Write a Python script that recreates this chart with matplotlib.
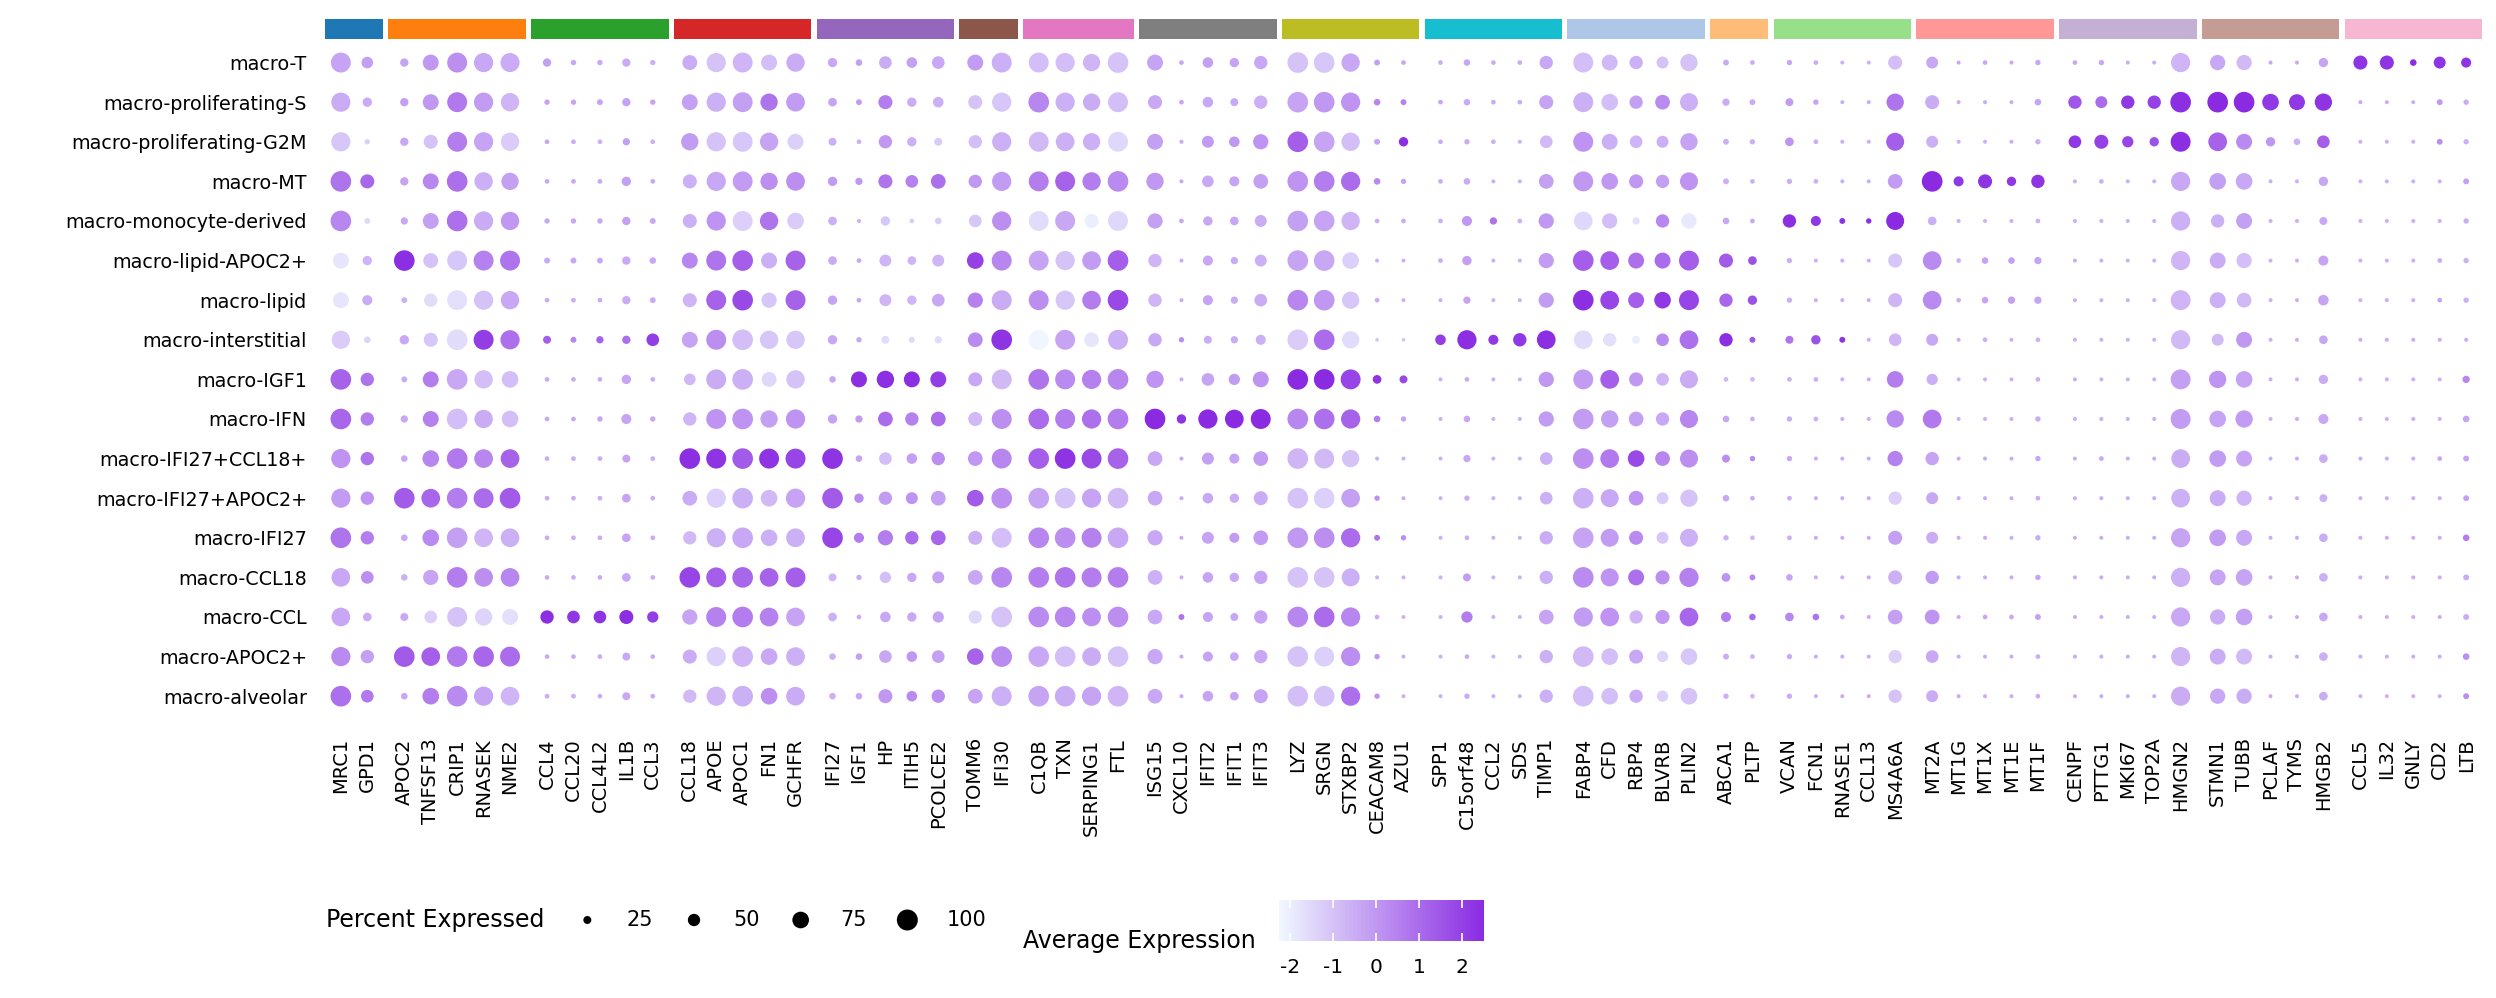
import numpy as np
import matplotlib
matplotlib.use("Agg")
import matplotlib.pyplot as plt
from matplotlib.colors import LinearSegmentedColormap, Normalize
from matplotlib.patches import Rectangle
import matplotlib.cm as cm

plt.rcParams['axes.unicode_minus'] = False

# Setup

clusters = ['macro-T', 'macro-proliferating-S', 'macro-proliferating-G2M', 'macro-MT',
            'macro-monocyte-derived', 'macro-lipid-APOC2+', 'macro-lipid', 'macro-interstitial',
            'macro-IGF1', 'macro-IFN', 'macro-IFI27+CCL18+', 'macro-IFI27+APOC2+', 'macro-IFI27',
            'macro-CCL18', 'macro-CCL', 'macro-APOC2+', 'macro-alveolar']

gene_groups = [
    ['MRC1', 'GPD1'],
    ['APOC2', 'TNFSF13', 'CRIP1', 'RNASEK', 'NME2'],
    ['CCL4', 'CCL20', 'CCL4L2', 'IL1B', 'CCL3'],
    ['CCL18', 'APOE', 'APOC1', 'FN1', 'GCHFR'],
    ['IFI27', 'IGF1', 'HP', 'ITIH5', 'PCOLCE2'],
    ['TOMM6', 'IFI30'],
    ['C1QB', 'TXN', 'SERPING1', 'FTL'],
    ['ISG15', 'CXCL10', 'IFIT2', 'IFIT1', 'IFIT3'],
    ['LYZ', 'SRGN', 'STXBP2', 'CEACAM8', 'AZU1'],
    ['SPP1', 'C15orf48', 'CCL2', 'SDS', 'TIMP1'],
    ['FABP4', 'CFD', 'RBP4', 'BLVRB', 'PLIN2'],
    ['ABCA1', 'PLTP'],
    ['VCAN', 'FCN1', 'RNASE1', 'CCL13', 'MS4A6A'],
    ['MT2A', 'MT1G', 'MT1X', 'MT1E', 'MT1F'],
    ['CENPF', 'PTTG1', 'MKI67', 'TOP2A', 'HMGN2'],
    ['STMN1', 'TUBB', 'PCLAF', 'TYMS', 'HMGB2'],
    ['CCL5', 'IL32', 'GNLY', 'CD2', 'LTB'],
]

group_colors = ['#1f77b4', '#ff7f0e', '#2ca02c', '#d62728', '#9467bd', '#8c564b', '#e377c2',
                '#7f7f7f', '#bcbd22', '#17becf', '#aec7e8', '#ffbb78', '#98df8a', '#ff9896',
                '#c5b0d5', '#c49c94', '#f7b6d2']

# average expression (scaled) and percent expressed, one list per cluster, genes in order above

expr_T = [-0.3, -0.2,  -0.3, 0.0, 0.2, -0.4, -0.5,  -0.2, -0.4, -0.4, -0.5, -0.6,
          -0.5, -1.0, -0.7, -0.9, -0.5,  -0.4, -0.2, -0.5, -0.2, -0.4,  -0.1, -0.6,
          -0.9, -0.9, -0.7, -1.0,  -0.3, -0.4, -0.2, -0.3, -0.4,  -1.0, -1.1, -0.4, -0.2, -0.4,
          -0.5, -0.4, -0.5, -0.5, -0.4,  -0.9, -0.8, -0.6, -1.0, -1.0,  -0.5, -0.5,
          -0.4, -0.5, -0.6, -0.6, -0.9,  -0.4, -0.4, -0.4, -0.4, -0.4,  -0.4, -0.4, -0.5, -0.5, -0.7,
          -0.4, -0.8, -0.4, -0.5, -0.3,  2.3, 2.3, 2.4, 2.3, 2.3]
pct_T = [94, 46,  27, 71, 94, 90, 89,  27, 10, 10, 27, 10,  65, 90, 94, 71, 85,
         33, 17, 52, 40, 52,  71, 94,  94, 90, 79, 98,  71, 6, 40, 33, 56,
         98, 98, 85, 13, 6,  6, 17, 6, 6, 56,  94, 71, 56, 48, 79,  13, 6,
         10, 6, 2, 2, 60,  48, 2, 6, 2, 10,  6, 10, 2, 2, 90,  67, 67, 2, 2, 33,
         60, 60, 17, 48, 37]

expr_S = [-0.5, -0.5,  -0.2, 0.0, 0.7, -0.1, -0.7,  -0.3, -0.3, -0.3, -0.3, -0.3,
          -0.2, -0.6, -0.2, 0.8, -0.1,  -0.3, -0.1, 0.6, -0.5, -0.6,  -1.0, -1.1,
          0.4, -0.6, -0.5, -0.9,  -0.4, -0.3, -0.4, -0.4, -0.6,  -0.3, 0.0, 0.1, 0.4, 0.5,
          -0.3, -0.5, -0.5, -0.5, -0.3,  -0.6, -0.9, -0.2, 0.3, -0.6,  -0.5, -0.5,
          -0.1, -0.3, -0.5, -0.5, 0.8,  -0.5, -0.5, -0.5, -0.5, -0.3,  1.5, 1.0, 2.2, 2.0, 2.4,
          2.5, 2.5, 2.2, 2.2, 2.3,  -0.4, -0.5, -0.5, 0.0, -0.5]
pct_S = [90, 33,  27, 71, 94, 90, 85,  10, 10, 13, 27, 10,  71, 90, 94, 79, 87,
         29, 13, 60, 33, 40,  60, 90,  98, 90, 79, 94,  60, 6, 40, 25, 56,
         98, 98, 90, 17, 13,  6, 17, 6, 6, 60,  94, 75, 56, 64, 83,  21, 13,
         25, 10, 2, 2, 79,  60, 2, 2, 2, 17,  56, 48, 56, 56, 98,  98, 98, 75, 71, 79,
         2, 2, 2, 13, 10]

expr_G2M = [-1.1, -1.3,  -0.4, -1.0, 0.6, -0.3, -1.2,  -0.4, -0.5, -0.6, -0.2, -0.6,
            -0.1, -1.0, -1.1, -0.3, -1.3,  -0.6, -0.6, 0.0, -0.6, -1.2,  -0.9, -0.6,
            -0.8, -0.6, -0.6, -1.5,  -0.2, -0.4, -0.1, 0.0, 0.1,  1.3, -0.3, -0.9, -0.3, 2.4,
            -0.5, -0.5, -0.6, -0.6, -0.8,  0.1, -0.6, -0.7, -0.6, -0.3,  -0.6, -0.6,
            0.1, -0.5, -0.6, -0.6, 1.3,  -0.6, -0.6, -0.6, -0.6, -0.6,  2.2, 2.0, 1.9, 1.6, 2.4,
            1.2, 0.3, 0.0, -0.6, 1.3,  -0.6, -0.6, -0.6, 0.2, -0.6]
pct_G2M = [90, 10,  27, 60, 94, 90, 85,  6, 6, 6, 21, 6,  79, 90, 94, 85, 71,
           25, 6, 56, 33, 25,  56, 90,  94, 87, 79, 94,  71, 2, 48, 40, 67,
           98, 98, 85, 13, 33,  6, 10, 6, 2, 52,  94, 71, 52, 48, 79,  13, 10,
           29, 6, 2, 2, 83,  48, 2, 2, 2, 10,  52, 60, 44, 33, 94,  87, 71, 33, 17, 52,
           2, 2, 2, 13, 10]

expr_MT = [0.8, 1.1,  -0.3, 0.4, 0.9, -0.6, -0.2,  -0.4, -0.4, -0.4, -0.2, -0.4,
           -0.6, -0.4, -0.1, 0.2, 0.2,  -0.1, 0.0, 0.8, 0.5, 0.9,  0.0, -0.1,
           0.6, 1.2, 0.6, 0.3,  0.0, -0.4, -0.4, -0.3, -0.2,  0.1, 0.6, 1.0, 0.3, -0.3,
           -0.5, -0.5, -0.6, -0.6, -0.2,  0.0, 0.0, 0.0, -0.2, 0.1,  -0.6, -0.6,
           -0.6, -0.6, -0.6, -0.6, -0.1,  2.5, 2.2, 2.3, 2.2, 2.3,  -0.6, -0.6, -0.6, -0.6, -0.4,
           -0.2, -0.4, -0.6, -0.6, -0.4,  -0.6, -0.6, -0.6, -0.6, -0.2]
pct_MT = [98, 60,  27, 71, 98, 85, 79,  6, 6, 6, 33, 6,  60, 90, 94, 79, 87,
          33, 21, 60, 52, 64,  56, 90,  94, 94, 85, 98,  79, 2, 46, 37, 64,
          98, 98, 90, 17, 10,  6, 17, 2, 2, 64,  94, 75, 60, 56, 83,  13, 6,
          10, 6, 2, 2, 64,  98, 37, 60, 33, 56,  2, 6, 2, 2, 90,  75, 75, 2, 2, 33,
          2, 2, 2, 2, 13]

expr_mono = [0.4, -1.5,  -0.4, -0.2, 0.9, -0.5, 0.0,  -0.4, -0.4, -0.4, -0.2, -0.4,
             -0.6, 0.1, -1.3, 0.8, -1.2,  -0.6, -0.6, -1.1, -1.2, -1.2,  -1.1, 0.2,
             -1.6, -0.4, -2.0, -1.5,  -0.2, -0.4, -0.4, -0.4, -0.5,  -0.2, -0.3, -0.7, -0.5, -0.5,
             -0.6, 0.0, 0.8, -0.6, 0.0,  -1.5, -0.9, -1.7, 0.4, -1.9,  -0.4, -0.4,
             2.4, 2.2, 2.3, 2.4, 2.5,  -0.6, -0.6, -0.6, -0.6, -0.6,  -0.6, -0.6, -0.6, -0.6, -0.6,
             -0.6, -0.2, -0.6, -0.6, -0.4,  -0.6, -0.6, -0.6, -0.6, -0.5]
pct_mono = [98, 13,  21, 71, 98, 90, 85,  10, 10, 10, 27, 13,  60, 90, 94, 85, 75,
            29, 2, 33, 6, 17,  52, 90,  94, 94, 60, 94,  67, 6, 33, 29, 48,
            98, 98, 85, 6, 6,  6, 37, 21, 6, 67,  87, 67, 21, 56, 67,  17, 6,
            56, 37, 13, 10, 83,  29, 2, 2, 2, 6,  2, 2, 2, 2, 90,  56, 71, 2, 2, 25,
            2, 2, 2, 2, 10]

expr_lipidAPOC2 = [-1.8, -0.7,  2.4, -1.0, -1.1, 0.5, 0.8,  -0.4, -0.4, -0.4, -0.4, -0.4,
                   0.4, 0.8, 1.3, -0.6, 1.2,  -0.5, -0.4, -0.7, -0.7, -0.7,  2.0, 0.4,
                   -0.3, -1.0, -0.1, 1.3,  -0.7, -0.5, -0.4, -0.5, -0.6,  -0.3, -0.4, -1.3, -0.6, -0.6,
                   -0.5, -0.2, -0.6, -0.6, -0.1,  1.3, 1.3, 0.9, 1.0, 1.3,  1.4, 1.6,
                   -0.6, -0.6, -0.6, -0.6, -1.1,  0.3, -0.6, -0.3, -0.2, -0.3,  -0.6, -0.6, -0.6, -0.6, -0.7,
                   -0.5, -0.9, -0.6, -0.6, -0.3,  -0.6, -0.6, -0.6, -0.5, -0.6]
pct_lipidAPOC2 = [71, 33,  98, 65, 94, 94, 94,  13, 13, 13, 27, 17,  71, 94, 98, 71, 94,
                  29, 6, 48, 29, 48,  75, 94,  94, 90, 87, 98,  56, 2, 37, 21, 48,
                  98, 98, 75, 2, 2,  6, 33, 2, 2, 67,  98, 87, 71, 71, 94,  60, 29,
                  10, 2, 2, 2, 60,  87, 6, 17, 17, 21,  2, 2, 2, 2, 90,  71, 67, 2, 2, 37,
                  2, 2, 2, 6, 10]

expr_lipid = [-1.8, -0.5,  -0.6, -1.6, -1.7, -1.0, -0.4,  -0.5, -0.5, -0.5, -0.5, -0.5,
              -0.7, 1.2, 1.8, -1.1, 1.2,  -0.3, -0.4, -0.7, -0.7, -0.4,  0.5, -0.5,
              0.2, -1.1, 0.6, 1.8,  -0.7, -0.5, -0.3, -0.5, -0.5,  0.4, 0.0, -1.1, -0.5, -0.6,
              -0.6, -0.3, -0.6, -0.6, -0.1,  2.4, 1.9, 1.3, 2.2, 1.9,  1.1, 1.6,
              -0.6, -0.6, -0.6, -0.6, -0.7,  0.3, -0.6, -0.3, -0.2, -0.3,  -0.6, -0.6, -0.6, -0.6, -0.7,
              -0.6, -0.8, -0.6, -0.6, -0.3,  -0.6, -0.6, -0.6, -0.3, -0.6]
pct_lipid = [71, 37,  13, 56, 94, 90, 85,  6, 6, 6, 27, 13,  60, 94, 98, 67, 94,
             33, 6, 48, 33, 52,  67, 94,  94, 90, 87, 98,  56, 2, 37, 21, 52,
             98, 98, 79, 6, 2,  2, 21, 2, 2, 67,  98, 87, 71, 75, 94,  56, 33,
             10, 2, 2, 2, 60,  87, 6, 17, 21, 21,  2, 2, 2, 2, 94,  71, 64, 2, 2, 40,
             2, 2, 2, 6, 10]

expr_inter = [-1.2, -1.4,  -0.4, -1.1, -1.6, 2.1, 0.9,  1.3, 0.4, 1.2, 0.9, 2.1,
              -0.3, 0.2, -0.9, -1.1, -1.1,  -0.4, -0.4, -1.6, -1.5, -1.6,  0.3, 2.3,
              -2.2, -0.3, -1.8, -0.6,  -0.4, 0.2, -0.5, -0.5, -0.6,  -1.2, 1.0, -1.6, -1.0, -1.0,
              2.1, 2.4, 2.2, 2.2, 2.4,  -1.6, -1.7, -2.0, 0.3, 0.9,  2.4, 1.5,
              0.8, 1.6, 2.3, -0.6, -0.7,  -0.4, -0.6, -0.6, -0.6, -0.6,  -0.6, -0.6, -0.6, -0.6, -0.8,
              -0.8, 0.0, -0.6, -0.6, -0.4,  -0.5, -0.5, -0.5, -0.5, -0.5]
pct_inter = [85, 17,  33, 60, 98, 94, 90,  25, 13, 21, 27, 52,  71, 94, 98, 85, 85,
             33, 10, 25, 13, 21,  64, 98,  94, 94, 64, 94,  56, 10, 25, 21, 37,
             98, 98, 79, 0, 0,  40, 90, 37, 56, 87,  87, 56, 25, 52, 87,  56, 13,
             25, 33, 13, 2, 52,  48, 2, 6, 2, 6,  2, 2, 2, 2, 90,  48, 71, 2, 2, 29,
             2, 2, 2, 2, 2]

expr_IGF1 = [1.2, 0.8,  -0.5, 0.6, -0.4, -0.9, -0.9,  -0.5, -0.5, -0.5, -0.3, -0.5,
             -0.8, -0.5, -0.6, -1.5, -1.0,  -0.4, 2.4, 2.4, 2.4, 2.1,  -0.4, -0.8,
             0.8, 0.3, 0.5, 0.4,  0.1, -0.5, -0.3, -0.1, 0.1,  2.5, 2.5, 1.9, 2.3, 1.8,
             -0.6, -0.5, -0.6, -0.6, 0.0,  -0.1, 1.3, 0.0, -0.7, -0.5,  -0.8, -0.8,
             -0.6, -0.6, -0.6, -0.6, 0.6,  -0.6, -0.6, -0.6, -0.6, -0.6,  -0.6, -0.6, -0.6, -0.6, -0.2,
             0.1, -0.3, -0.6, -0.6, -0.5,  -0.6, -0.6, -0.6, -0.6, 0.4]
pct_IGF1 = [98, 56,  13, 71, 98, 85, 75,  6, 6, 6, 33, 6,  46, 94, 98, 65, 85,
            17, 71, 79, 71, 71,  60, 94,  98, 94, 90, 98,  79, 2, 52, 44, 71,
            98, 98, 94, 29, 25,  2, 6, 2, 2, 67,  94, 87, 60, 52, 83,  6, 6,
            6, 6, 2, 2, 75,  44, 2, 2, 2, 6,  2, 2, 2, 2, 94,  79, 75, 2, 2, 33,
            2, 2, 2, 2, 21]

expr_IFN = [1.1, 0.6,  -0.4, 0.5, -0.9, -0.5, -0.9,  -0.4, -0.4, -0.3, -0.3, -0.4,
            -0.7, 0.1, 0.1, -0.2, 0.1,  -0.3, -0.1, 1.0, 0.5, 1.0,  -0.8, 0.2,
            1.0, 0.6, 0.9, 0.6,  2.5, 2.3, 2.5, 2.5, 2.5,  0.4, 0.9, 1.2, 0.6, -0.3,
            -0.6, -0.4, -0.6, -0.6, -0.1,  -0.1, -0.2, -0.2, -0.4, 0.4,  -0.4, -0.6,
            -0.6, -0.6, -0.6, -0.6, 0.3,  0.7, -0.6, -0.6, -0.6, -0.5,  -0.6, -0.6, -0.6, -0.6, -0.1,
            -0.3, -0.1, -0.6, -0.6, -0.4,  -0.6, -0.6, -0.6, -0.6, -0.3]
pct_IFN = [98, 56,  21, 71, 98, 85, 75,  6, 6, 10, 37, 10,  56, 94, 98, 79, 90,
           33, 21, 64, 56, 64,  60, 94,  98, 94, 90, 98,  98, 33, 90, 87, 94,
           98, 98, 90, 17, 10,  2, 17, 2, 2, 67,  98, 79, 64, 56, 83,  17, 6,
           10, 6, 2, 2, 79,  87, 2, 2, 2, 10,  2, 2, 2, 2, 94,  75, 79, 2, 2, 37,
           2, 2, 2, 2, 17]

expr_IFI27_CCL18 = [0.1, 0.8,  -0.4, 0.4, 0.7, 0.4, 1.2,  -0.5, -0.5, -0.5, -0.3, -0.5,
                    2.4, 2.3, 1.4, 2.3, 1.9,  2.3, -0.3, -0.9, -0.2, 0.2,  0.0, 0.4,
                    1.3, 2.3, 1.8, 1.2,  -0.4, -0.4, -0.2, -0.3, -0.1,  -0.7, -0.8, -1.0, -0.6, -0.6,
                    -0.6, -0.4, -0.6, -0.6, -0.6,  0.2, 0.7, 1.8, 0.4, 0.2,  0.2, 0.3,
                    -0.4, -0.5, -0.5, -0.5, 0.5,  -0.3, -0.5, -0.5, -0.5, -0.4,  -0.5, -0.4, -0.5, -0.5, -0.5,
                    -0.1, -0.3, -0.5, -0.5, -0.5,  -0.5, -0.5, -0.5, -0.4, -0.3]
pct_IFI27_CCL18 = [90, 56,  17, 75, 98, 87, 87,  6, 6, 6, 25, 6,  98, 94, 98, 94, 94,
                   98, 17, 52, 40, 56,  64, 94,  98, 98, 94, 98,  64, 2, 48, 37, 64,
                   98, 94, 79, 2, 2,  2, 21, 2, 2, 52,  98, 87, 75, 64, 83,  25, 10,
                   10, 2, 2, 2, 67,  56, 2, 2, 2, 10,  2, 6, 2, 2, 87,  75, 71, 2, 2, 29,
                   2, 2, 2, 6, 13]

expr_IFI27_APOC2 = [-0.1, 0.1,  1.4, 1.1, 0.6, 1.0, 1.4,  -0.5, -0.5, -0.5, -0.3, -0.5,
                    -0.5, -1.3, -0.6, -0.8, -0.3,  1.4, 0.3, -0.1, 0.1, -0.2,  1.4, 0.2,
                    -0.3, -1.0, -0.3, -0.8,  -0.4, -0.4, -0.4, -0.5, -0.5,  -1.0, -1.3, -0.2, 0.2, -0.5,
                    -0.6, -0.5, -0.6, -0.6, -0.6,  -0.6, -0.4, 0.1, -1.2, -1.0,  -0.4, -0.5,
                    -0.5, -0.5, -0.5, -0.5, -1.3,  -0.4, -0.5, -0.5, -0.5, -0.5,  -0.5, -0.5, -0.5, -0.5, -0.6,
                    -0.5, -0.7, -0.5, -0.5, -0.6,  -0.5, -0.5, -0.5, -0.5, -0.2]
pct_IFI27_APOC2 = [90, 56,  98, 87, 98, 94, 98,  6, 6, 6, 29, 6,  64, 90, 98, 75, 90,
                   98, 33, 56, 48, 64,  75, 98,  98, 98, 90, 98,  64, 2, 40, 33, 60,
                   98, 98, 87, 10, 2,  2, 10, 2, 2, 52,  98, 83, 64, 48, 79,  17, 6,
                   6, 2, 2, 2, 56,  48, 2, 2, 2, 6,  2, 2, 2, 2, 87,  71, 67, 2, 2, 25,
                   2, 2, 2, 2, 13]

expr_IFI27 = [0.8, 0.6,  -0.4, 0.3, -0.2, -0.7, -0.6,  -0.5, -0.5, -0.5, -0.3, -0.5,
              -0.8, -0.6, -0.4, -0.6, -0.6,  1.9, 0.6, 0.6, 1.0, 1.1,  -0.6, -0.9,
              0.4, 0.2, 0.5, -0.4,  -0.4, -0.4, -0.3, -0.1, -0.1,  0.0, 0.2, 1.0, 0.8, 0.2,
              -0.6, -0.5, -0.6, -0.6, -0.5,  -0.3, -0.1, 0.3, -1.1, -0.6,  -0.6, -0.7,
              -0.5, -0.5, -0.5, -0.5, -0.2,  -0.5, -0.5, -0.5, -0.5, -0.5,  -0.5, -0.5, -0.5, -0.5, -0.3,
              -0.1, -0.4, -0.5, -0.5, -0.5,  -0.5, -0.5, -0.5, -0.5, 0.6]
pct_IFI27 = [98, 56,  17, 75, 98, 87, 87,  6, 6, 6, 29, 6,  56, 90, 98, 75, 87,
             98, 37, 67, 56, 64,  60, 94,  98, 98, 94, 98,  67, 2, 48, 37, 64,
             98, 98, 90, 13, 10,  2, 6, 2, 2, 56,  98, 83, 60, 48, 83,  10, 6,
             6, 2, 2, 2, 60,  48, 2, 2, 2, 10,  2, 2, 2, 2, 90,  75, 71, 2, 2, 29,
             2, 2, 2, 2, 17]

expr_CCL18 = [-0.4, 0.2,  -0.6, -0.3, 0.6, 0.2, 0.4,  -0.5, -0.5, -0.5, -0.4, -0.5,
              1.9, 1.3, 1.1, 1.2, 1.3,  -0.7, -0.5, -0.9, -0.4, -0.2,  -0.4, 0.4,
              0.6, 0.8, 0.6, 0.6,  -0.6, -0.5, -0.3, -0.4, -0.3,  -1.0, -1.0, -0.6, -0.6, -0.6,
              -0.6, -0.1, -0.6, -0.6, -0.6,  0.3, 0.1, 0.9, 0.2, 0.5,  0.1, 0.4,
              -0.3, -0.5, -0.5, -0.5, -0.6,  -0.1, -0.5, -0.5, -0.5, -0.3,  -0.5, -0.5, -0.5, -0.5, -0.6,
              -0.3, -0.3, -0.5, -0.5, -0.6,  -0.5, -0.5, -0.5, -0.5, -0.5]
pct_CCL18 = [87, 52,  17, 67, 98, 87, 87,  6, 6, 6, 29, 6,  98, 94, 98, 87, 94,
             25, 10, 44, 33, 48,  64, 98,  98, 98, 94, 98,  64, 2, 40, 33, 56,
             98, 98, 83, 2, 2,  2, 25, 2, 2, 56,  98, 83, 71, 60, 90,  29, 13,
             17, 2, 2, 2, 60,  56, 2, 2, 2, 10,  2, 2, 2, 2, 90,  71, 75, 2, 2, 29,
             2, 2, 2, 2, 13]

expr_CCL = [-0.4, -0.5,  -0.4, -1.3, -1.0, -1.4, -1.7,  2.4, 2.2, 2.3, 2.4, 2.1,
            -0.3, 0.5, 0.6, 0.5, -0.3,  -0.6, -0.5, -0.4, -0.4, -0.3,  -1.5, -1.0,
            0.3, 0.4, 0.2, 0.2,  -0.4, 0.8, -0.3, -0.4, -0.3,  0.4, 1.0, 0.4, -0.5, -0.6,
            -0.6, 0.6, -0.6, -0.6, -0.3,  -0.1, 0.1, -0.7, 0.0, 1.1,  0.6, 1.0,
            0.4, 0.8, -0.4, -0.5, -0.2,  0.1, -0.5, -0.4, -0.4, -0.2,  -0.5, -0.5, -0.5, -0.5, -0.4,
            -0.5, -0.2, -0.5, -0.5, -0.4,  -0.5, -0.5, -0.5, -0.5, -0.5]
pct_CCL = [87, 29,  25, 52, 94, 79, 71,  56, 52, 52, 60, 44,  67, 94, 98, 87, 87,
           29, 6, 40, 33, 44,  56, 98,  98, 98, 87, 98,  64, 13, 37, 25, 56,
           98, 98, 90, 6, 2,  2, 44, 2, 2, 64,  90, 87, 56, 60, 87,  37, 17,
           29, 17, 6, 2, 64,  64, 2, 6, 6, 13,  2, 2, 2, 2, 90,  67, 75, 2, 2, 29,
           2, 2, 2, 2, 13]

expr_APOC2 = [0.3, -0.2,  1.4, 1.3, 0.7, 1.1, 1.0,  -0.5, -0.5, -0.5, -0.4, -0.5,
              -0.5, -1.3, -0.7, -0.4, -0.6,  -0.6, -0.2, -0.4, 0.0, -0.2,  1.2, 0.3,
              -0.4, -0.9, -0.5, -1.0,  -0.4, -0.4, -0.3, -0.4, -0.4,  -1.0, -1.3, 0.2, 0.0, -0.5,
              -0.6, -0.5, -0.6, -0.6, -0.6,  -0.8, -0.9, -0.4, -1.4, -1.1,  -0.5, -0.6,
              -0.5, -0.5, -0.5, -0.5, -1.3,  -0.4, -0.5, -0.5, -0.5, -0.5,  -0.5, -0.5, -0.5, -0.5, -0.7,
              -0.5, -0.8, -0.5, -0.5, -0.6,  -0.5, -0.5, -0.5, -0.5, 0.2]
pct_APOC2 = [90, 56,  98, 87, 98, 98, 94,  6, 6, 6, 25, 6,  60, 90, 98, 75, 87,
             17, 17, 52, 40, 52,  75, 98,  98, 98, 87, 98,  67, 2, 37, 29, 56,
             98, 94, 90, 10, 2,  2, 6, 2, 2, 56,  98, 75, 60, 44, 75,  13, 6,
             10, 2, 2, 2, 56,  52, 2, 2, 2, 6,  2, 2, 2, 2, 90,  71, 71, 2, 2, 29,
             2, 2, 2, 2, 17]

expr_alv = [0.9, 0.7,  -0.4, 0.6, 0.3, -0.3, -0.7,  -0.5, -0.5, -0.5, -0.4, -0.5,
            -0.8, -0.7, -0.6, 0.2, -0.5,  -0.6, -0.4, 0.0, 0.3, 0.2,  -0.3, -0.6,
            -0.3, -0.5, -0.3, -0.7,  -0.4, -0.4, -0.3, -0.3, -0.3,  -0.9, -1.0, 0.9, 0.1, -0.6,
            -0.6, -0.5, -0.6, -0.6, -0.6,  -0.9, -0.9, -0.5, -1.3, -1.0,  -0.6, -0.8,
            -0.5, -0.5, -0.5, -0.5, -1.0,  -0.5, -0.5, -0.5, -0.5, -0.5,  -0.5, -0.5, -0.5, -0.5, -0.5,
            -0.4, -0.5, -0.5, -0.5, -0.5,  -0.6, -0.6, -0.6, -0.6, 0.2]
pct_alv = [98, 52,  17, 75, 98, 90, 87,  6, 6, 6, 25, 6,  56, 90, 98, 75, 87,
           17, 17, 60, 40, 56,  64, 94,  98, 98, 90, 98,  64, 2, 40, 29, 60,
           98, 98, 90, 10, 2,  2, 10, 2, 2, 56,  98, 75, 56, 44, 75,  10, 6,
           10, 2, 2, 2, 56,  48, 2, 2, 2, 6,  2, 2, 2, 2, 90,  67, 67, 2, 2, 29,
           2, 2, 2, 2, 13]

expr_rows = [expr_T, expr_S, expr_G2M, expr_MT, expr_mono, expr_lipidAPOC2, expr_lipid,
             expr_inter, expr_IGF1, expr_IFN, expr_IFI27_CCL18, expr_IFI27_APOC2, expr_IFI27,
             expr_CCL18, expr_CCL, expr_APOC2, expr_alv]
pct_rows = [pct_T, pct_S, pct_G2M, pct_MT, pct_mono, pct_lipidAPOC2, pct_lipid,
            pct_inter, pct_IGF1, pct_IFN, pct_IFI27_CCL18, pct_IFI27_APOC2, pct_IFI27,
            pct_CCL18, pct_CCL, pct_APOC2, pct_alv]

genes = [g for grp in gene_groups for g in grp]
for r in expr_rows + pct_rows:
    assert len(r) == len(genes), len(r)

# x positions: one unit per gene, small extra gap between groups
xpos = []
for gi, grp in enumerate(gene_groups):
    start = len(xpos)
    for k in range(len(grp)):
        xpos.append(start + k + 0.4 * gi)
xpos = np.array(xpos)

cmap = LinearSegmentedColormap.from_list('expr', ['#F0F8FF', '#8A2BE2'])
norm = Normalize(vmin=-2.26, vmax=2.51)

def dot_size(p):
    # diameter in px grows linearly with percent, converted to points^2
    d_px = 3.67 + 0.173 * np.asarray(p, dtype=float)
    return (d_px * 0.72) ** 2

W, H = 2496, 998
fig = plt.figure(figsize=(W / 100, H / 100), dpi=100)

def px_axes(x0, y0, x1, y1):
    return fig.add_axes([x0 / W, 1 - y1 / H, (x1 - x0) / W, (y1 - y0) / H])

# Dot plot

ax = px_axes(325, 19, 2482, 716)
for ri in range(len(clusters)):
    ax.scatter(xpos, np.full(len(xpos), ri), s=dot_size(pct_rows[ri]),
               c=expr_rows[ri], cmap=cmap, norm=norm, linewidths=0, zorder=3)

ax.set_xlim(xpos[0] - 0.6, xpos[-1] + 0.6)
ax.set_ylim(16.5, -1.1)

start = 0
for gi, grp in enumerate(gene_groups):
    x0 = xpos[start] - 0.6
    x1 = xpos[start + len(grp) - 1] + 0.6
    ax.add_patch(Rectangle((x0, -1.1), x1 - x0, 0.5, color=group_colors[gi], clip_on=False, lw=0))
    start += len(grp)

ax.set_yticks(range(len(clusters)))
ax.set_yticklabels(clusters, fontsize=13.8)
ax.set_xticks(xpos)
ax.set_xticklabels(genes, rotation=90, fontsize=14)
ax.tick_params(axis='y', length=0, pad=13)
ax.tick_params(axis='x', length=0, pad=16)
for sp in ax.spines.values():
    sp.set_visible(False)

# Size legend

fig.text(326 / W, 1 - 920 / H, 'Percent Expressed', fontsize=17, ha='left', va='center')
leg_pct = [25, 50, 75, 100]
lax = px_axes(534, 900, 1014, 940)
lax.scatter(range(len(leg_pct)), [0] * len(leg_pct), s=dot_size(leg_pct), color='black', linewidths=0)
for i, p in enumerate(leg_pct):
    lax.text(i + 0.37, 0, str(p), fontsize=15, ha='left', va='center')
lax.set_xlim(-0.5, 4.0)
lax.set_ylim(-1, 1)
lax.axis('off')

# Colour legend

fig.text(1023 / W, 1 - 941 / H, 'Average Expression', fontsize=17, ha='left', va='center')
cax = px_axes(1279, 900, 1484, 941)
sm = cm.ScalarMappable(norm=norm, cmap=cmap)
cbar = fig.colorbar(sm, cax=cax, orientation='horizontal', ticks=[-2, -1, 0, 1, 2])
cbar.outline.set_visible(False)
cax.tick_params(axis='x', direction='in', color='white', width=1.2, length=6,
                top=True, bottom=True, labeltop=False, labelsize=14.5, pad=12)

fig.savefig('out.png', dpi=100)
